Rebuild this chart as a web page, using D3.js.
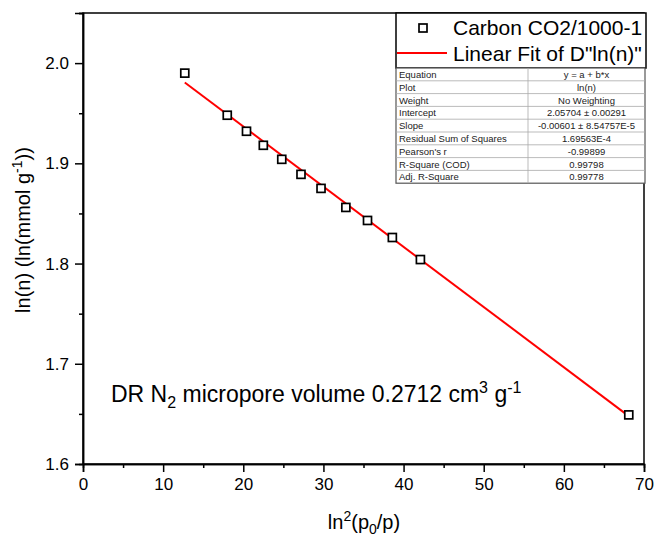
<!DOCTYPE html>
<html>
<head>
<meta charset="utf-8">
<script src="https://cdn.jsdelivr.net/npm/d3@7"></script>
<style>
  body { margin: 0; background: #fff; }
  svg { font-family: Arial, "Liberation Sans", sans-serif; }
</style>
</head>
<body>
<div class="graph"></div>
<script>

// data
var xVals = [12.7, 18.0, 20.4, 22.5, 24.8, 27.2, 29.7, 32.8, 35.5, 38.6, 42.1, 68.1];
var yVals = [1.990, 1.948, 1.932, 1.918, 1.904, 1.889, 1.875, 1.856, 1.843, 1.826, 1.804, 1.649];
var fitIntercept = 2.05704;
var fitSlope = -0.00601;

var xTicks = [0, 10, 20, 30, 40, 50, 60, 70];
var yTicks = [1.6, 1.7, 1.8, 1.9, 2.0];

var legendNames = ["Carbon CO2/1000-1", "Linear Fit of D\"ln(n)\""];
var tableKeys = ["Equation", "Plot", "Weight", "Intercept", "Slope",
    "Residual Sum of Squares", "Pearson's r", "R-Square (COD)", "Adj. R-Square"];
var tableValues = ["y = a + b*x", "ln(n)", "No Weighting", "2.05704 \u00b1 0.00291",
    "-0.00601 \u00b1 8.54757E-5", "1.69563E-4", "-0.99899", "0.99798", "0.99778"];

const margin = { top: 13, right: 11, bottom: 77, left: 83 },
    width = 655 - margin.left - margin.right,
    height = 541 - margin.top - margin.bottom;

var svg = d3.select(".graph").append("svg")
    .attr("width", 655)
    .attr("height", 541);
var g = svg.append("g")
    .attr("transform", "translate(" + margin.left + "," + margin.top + ")");

var x = d3.scaleLinear().domain([0, 70]).range([0, width]);
var y = d3.scaleLinear().domain([1.6, 2.05]).range([height, 0]);

// frame
g.append("rect")
    .attr("width", width).attr("height", height)
    .style("fill", "none").style("stroke", "#000").style("stroke-width", 1.5);

// minor ticks first, then major axes
var xMinor = d3.axisBottom(x).tickValues(d3.range(5, 70, 10)).tickSize(4).tickFormat("");
var yMinor = d3.axisLeft(y).tickValues([1.65, 1.75, 1.85, 1.95, 2.05]).tickSize(4).tickFormat("");
g.append("g").attr("transform", "translate(0," + height + ")").call(xMinor);
g.append("g").call(yMinor);

var xAxis = g.append("g")
    .attr("transform", "translate(0," + height + ")")
    .call(d3.axisBottom(x).tickValues(xTicks).tickSize(8).tickPadding(6).tickFormat(d3.format("d")));
var yAxis = g.append("g")
    .call(d3.axisLeft(y).tickValues(yTicks).tickSize(8).tickPadding(6).tickFormat(d3.format(".1f")));

g.selectAll(".domain").style("stroke", "#000").style("stroke-width", 1.5);
g.selectAll(".tick line").style("stroke", "#000").style("stroke-width", 1.5);
g.selectAll(".tick text").style("font-size", "17px").style("fill", "#000")
    .style("font-family", "Arial, 'Liberation Sans', sans-serif");

// fit line
var x0 = d3.min(xVals), x1 = d3.max(xVals);
g.append("line")
    .attr("x1", x(x0)).attr("y1", y(fitIntercept + fitSlope * x0))
    .attr("x2", x(x1)).attr("y2", y(fitIntercept + fitSlope * x1))
    .style("stroke", "#ff0000").style("stroke-width", 2);

// points
g.selectAll(".pt")
    .data(xVals.map((v, i) => [v, yVals[i]]))
    .enter().append("rect")
    .attr("class", "pt")
    .attr("x", d => x(d[0]) - 4).attr("y", d => y(d[1]) - 4)
    .attr("width", 8).attr("height", 8)
    .style("fill", "#fff").style("stroke", "#000").style("stroke-width", 1.7);

// axis titles
var xt = svg.append("text")
    .attr("x", 364).attr("y", 529)
    .attr("text-anchor", "middle")
    .style("font-size", "20px");
xt.append("tspan").text("ln");
xt.append("tspan").attr("dy", -8).style("font-size", "14px").text("2");
xt.append("tspan").attr("dy", 8).text("(p");
xt.append("tspan").attr("dy", 5).style("font-size", "14px").text("0");
xt.append("tspan").attr("dy", -5).text("/p)");

var yt = svg.append("text")
    .attr("transform", "translate(30,230) rotate(-90)")
    .attr("text-anchor", "middle")
    .style("font-size", "20px");
yt.append("tspan").text("ln(n) (ln(mmol g");
yt.append("tspan").attr("dy", -8).style("font-size", "14px").text("-1");
yt.append("tspan").attr("dy", 8).text("))");

// annotation
var an = svg.append("text")
    .attr("x", 111).attr("y", 402)
    .style("font-size", "23px");
an.append("tspan").text("DR N");
an.append("tspan").attr("dy", 6).style("font-size", "16px").text("2");
an.append("tspan").attr("dy", -6).text(" micropore volume 0.2712 cm");
an.append("tspan").attr("dy", -9).style("font-size", "16px").text("3");
an.append("tspan").attr("dy", 9).text(" g");
an.append("tspan").attr("dy", -9).style("font-size", "16px").text("-1");

// legend box
var lg = svg.append("g");
lg.append("rect")
    .attr("x", 396).attr("y", 13).attr("width", 250).attr("height", 55)
    .style("fill", "#fff").style("stroke", "#000").style("stroke-width", 1.5);
lg.append("rect")
    .attr("x", 419).attr("y", 24).attr("width", 8).attr("height", 8)
    .style("fill", "#fff").style("stroke", "#000").style("stroke-width", 1.7);
lg.append("line")
    .attr("x1", 397).attr("x2", 447).attr("y1", 53).attr("y2", 53)
    .style("stroke", "#ff0000").style("stroke-width", 2);
lg.selectAll(".lgtext")
    .data(legendNames)
    .enter().append("text")
    .attr("class", "lgtext")
    .attr("x", 453).attr("y", (d, i) => 35 + i * 26)
    .style("font-size", "21px")
    .text(d => d);

// fit table
var rowH = 12.8, tTop = 68, tLeft = 396, tMid = 528, tRight = 645;
var tb = svg.append("g");
tb.append("rect")
    .attr("x", tLeft).attr("y", tTop).attr("width", tRight - tLeft).attr("height", rowH * tableKeys.length)
    .style("fill", "#fff").style("stroke", "#555").style("stroke-width", 1.2);
tb.selectAll(".hrow")
    .data(d3.range(1, tableKeys.length))
    .enter().append("line")
    .attr("x1", tLeft).attr("x2", tRight)
    .attr("y1", d => tTop + d * rowH).attr("y2", d => tTop + d * rowH)
    .style("stroke", "#aaa").style("stroke-width", 0.8);
tb.append("line")
    .attr("x1", tMid).attr("x2", tMid).attr("y1", tTop).attr("y2", tTop + rowH * tableKeys.length)
    .style("stroke", "#aaa").style("stroke-width", 0.8);
tb.selectAll(".tkey")
    .data(tableKeys)
    .enter().append("text")
    .attr("x", tLeft + 3).attr("y", (d, i) => tTop + i * rowH + 10)
    .style("font-size", "9.5px").style("fill", "#222")
    .text(d => d);
tb.selectAll(".tval")
    .data(tableValues)
    .enter().append("text")
    .attr("x", (tMid + tRight) / 2).attr("y", (d, i) => tTop + i * rowH + 10)
    .attr("text-anchor", "middle")
    .style("font-size", "9.5px").style("fill", "#222")
    .text(d => d);

</script>
</body>
</html>
